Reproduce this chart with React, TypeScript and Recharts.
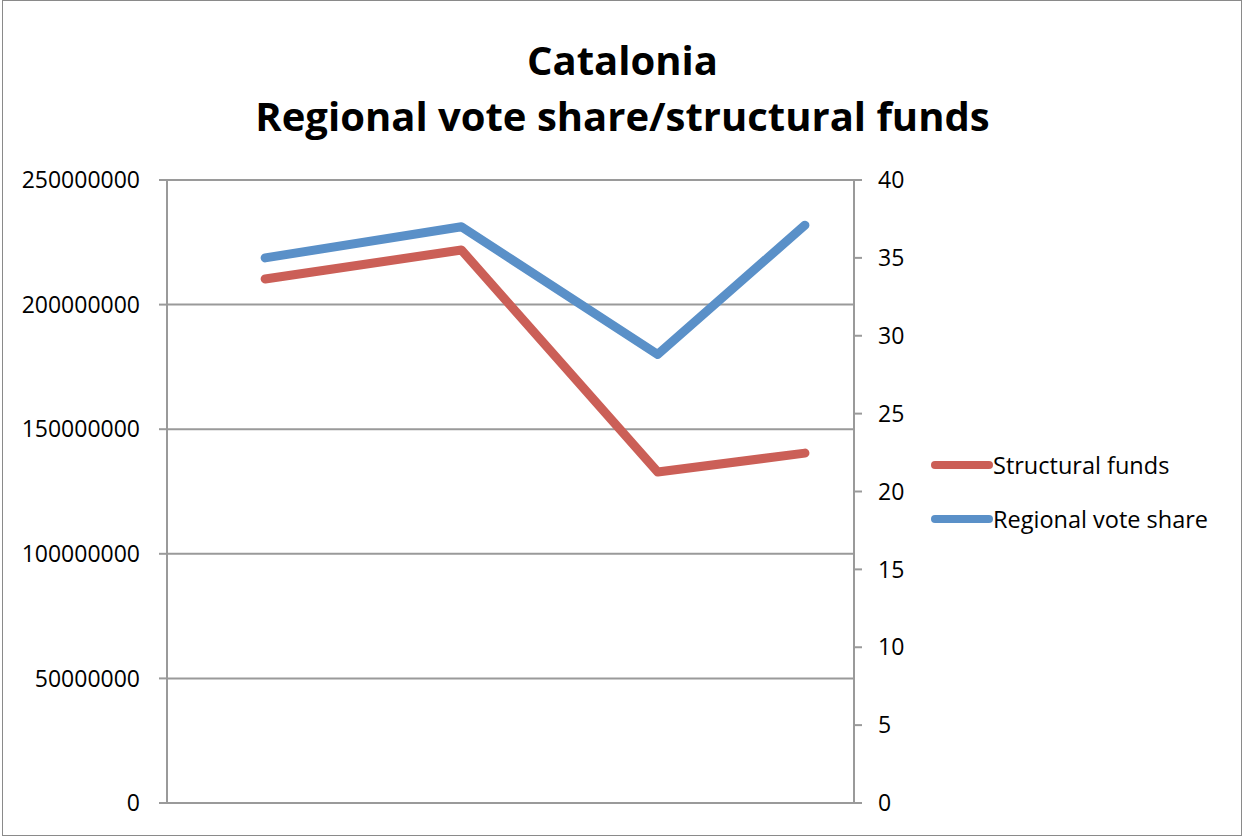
import React from 'react';
import { LineChart, Line, XAxis, YAxis, CartesianGrid } from 'recharts';

// election years (x positions are not evenly spaced in the original)
const years = [1995, 1999, 2003, 2006];
const structuralFunds = [210300000, 221900000, 132800000, 140400000];
const voteShare = [35.0, 37.0, 28.8, 37.1];
const leftTicks = [0, 50000000, 100000000, 150000000, 200000000, 250000000];
const rightTicks = [0, 5, 10, 15, 20, 25, 30, 35, 40];

const RED = '#CB5F57';
const BLUE = '#5A90C8';
const GRID = '#9a9a9a';
const FONT = '"Open Sans", sans-serif';

const data = years.map((y, i) => ({
  year: y,
  funds: structuralFunds[i],
  vote: voteShare[i],
}));

function LegendRow({ color, label }: { color: string; label: string }) {
  return (
    <div style={{ display: 'flex', alignItems: 'center', height: 54 }}>
      <svg width={62} height={12}>
        <line x1={4} y1={6} x2={58} y2={6} stroke={color} strokeWidth={8} strokeLinecap="round" />
      </svg>
      <span style={{ fontSize: 23.5, color: '#000' }}>{label}</span>
    </div>
  );
}

export default function App() {
  return (
    <div style={{ position: 'absolute', left: 0, top: 0, width: 1245, height: 837, background: '#fff', fontFamily: FONT }}>
      <style>{'body{margin:0}'}</style>
      <div
        style={{
          position: 'absolute', left: 2, top: 0, width: 1240, height: 836,
          border: '1px solid #8a8a8a', boxSizing: 'border-box',
        }}
      />
      <div
        style={{
          position: 'absolute', left: 0, top: 32, width: 1245, textAlign: 'center',
          fontWeight: 700, fontSize: 40, lineHeight: '56px', color: '#000',
        }}
      >
        Catalonia
        <br />
        Regional vote share/structural funds
      </div>

      <div style={{ position: 'absolute', left: 0, top: 0 }}>
        <LineChart
          width={1245}
          height={837}
          data={data}
          margin={{ top: 180, right: 331, bottom: 34, left: 0 }}
        >
          <CartesianGrid
            yAxisId="left"
            vertical={false}
            stroke={GRID}
            strokeWidth={2}
            horizontalValues={leftTicks}
          />
          <XAxis dataKey="year" type="number" domain={[1993, 2007]} hide />
          <YAxis
            yAxisId="left"
            width={167}
            domain={[0, 250000000]}
            ticks={leftTicks}
            interval={0}
            axisLine={{ stroke: GRID, strokeWidth: 2 }}
            tickLine={{ stroke: GRID, strokeWidth: 2 }}
            tickSize={8}
            tickMargin={19}
            tick={{ fill: '#000', fontSize: 23, fontFamily: FONT }}
          />
          <YAxis
            yAxisId="right"
            orientation="right"
            width={60}
            domain={[0, 40]}
            ticks={rightTicks}
            interval={0}
            axisLine={{ stroke: GRID, strokeWidth: 2 }}
            tickLine={{ stroke: GRID, strokeWidth: 2 }}
            tickSize={8}
            tickMargin={16}
            tick={{ fill: '#000', fontSize: 23, fontFamily: FONT }}
          />
          <Line
            yAxisId="left"
            type="linear"
            dataKey="funds"
            name="Structural funds"
            stroke={RED}
            strokeWidth={9}
            strokeLinecap="round"
            strokeLinejoin="round"
            dot={false}
            isAnimationActive={false}
          />
          <Line
            yAxisId="right"
            type="linear"
            dataKey="vote"
            name="Regional vote share"
            stroke={BLUE}
            strokeWidth={9}
            strokeLinecap="round"
            strokeLinejoin="round"
            dot={false}
            isAnimationActive={false}
          />
        </LineChart>
      </div>

      <div style={{ position: 'absolute', left: 931, top: 438 }}>
        <LegendRow color={RED} label="Structural funds" />
        <LegendRow color={BLUE} label="Regional vote share" />
      </div>
    </div>
  );
}
